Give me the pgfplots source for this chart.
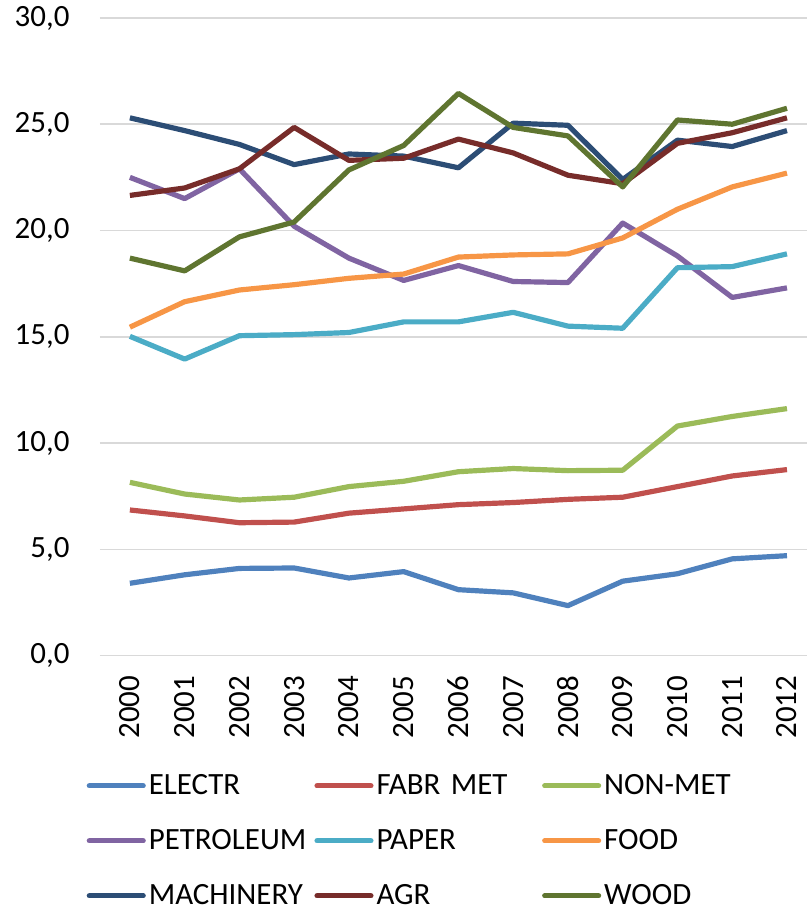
\documentclass[border=0pt]{standalone}
\usepackage{pgfplots}
\pgfplotsset{compat=1.18}
\usepackage{fontspec}
\setmainfont{Carlito}

\definecolor{cElectr}{HTML}{4F81BD}
\definecolor{cFabr}{HTML}{C0504D}
\definecolor{cNonmet}{HTML}{9BBB59}
\definecolor{cPetro}{HTML}{8064A2}
\definecolor{cPaper}{HTML}{4BACC6}
\definecolor{cFood}{HTML}{F79646}
\definecolor{cMach}{HTML}{2C4D75}
\definecolor{cAgr}{HTML}{772C2A}
\definecolor{cWood}{HTML}{5F7530}

\begin{document}
\begin{tikzpicture}[font=\fontsize{15.5}{18}\selectfont]
\begin{axis}[
  name=ax,
  scale only axis,
  width=354.5pt, height=319.5pt,
  xmin=1999.45, xmax=2012.37,
  ymin=0, ymax=30,
  ytick={0,5,...,30},
  xtick={2000,...,2012},
  xticklabels={2000,2001,2002,2003,2004,2005,2006,2007,2008,2009,2010,2011,2012},
  xticklabel style={rotate=90, anchor=east, inner sep=0pt, xshift=-10pt},
  yticklabel style={/pgf/number format/.cd, fixed, fixed zerofill, precision=1, use comma, /tikz/.cd, inner sep=0pt, xshift=-15pt},
  /pgf/number format/assume math mode=true,
  axis line style={draw=none},
  tick style={draw=none},
  ymajorgrids=true,
  grid style={draw=black!15, line width=0.75pt},
  clip=false,
  legend columns=3,
  legend cell align=left,
  legend style={at={(-0.019,-0.181)}, anchor=north west, draw=none, fill=none,
    inner sep=0pt, row sep=13pt,
    /tikz/every even column/.append style={text width=81.5pt, column sep=0pt},
    nodes={inner sep=1.5pt}},
  legend image code/.code={\draw[#1, line cap=round] (0pt,0pt) -- (27pt,0pt);},
  every axis plot/.append style={line width=2.6pt, line join=round, mark=none},
]
\addplot[cElectr] coordinates {(2000,3.4) (2001,3.8) (2002,4.1) (2003,4.12) (2004,3.65) (2005,3.95) (2006,3.1) (2007,2.95) (2008,2.35) (2009,3.5) (2010,3.85) (2011,4.55) (2012,4.7)};
\addlegendentry{ELECTR}
\addplot[cFabr] coordinates {(2000,6.85) (2001,6.57) (2002,6.25) (2003,6.28) (2004,6.7) (2005,6.9) (2006,7.1) (2007,7.2) (2008,7.35) (2009,7.45) (2010,7.95) (2011,8.45) (2012,8.75)};
\addlegendentry{FABR MET}
\addplot[cNonmet] coordinates {(2000,8.15) (2001,7.6) (2002,7.32) (2003,7.45) (2004,7.95) (2005,8.2) (2006,8.65) (2007,8.8) (2008,8.7) (2009,8.72) (2010,10.8) (2011,11.25) (2012,11.62)};
\addlegendentry{NON-MET}
\addplot[cPetro] coordinates {(2000,22.5) (2001,21.5) (2002,22.9) (2003,20.2) (2004,18.7) (2005,17.65) (2006,18.35) (2007,17.6) (2008,17.55) (2009,20.35) (2010,18.8) (2011,16.85) (2012,17.3)};
\addlegendentry{PETROLEUM}
\addplot[cPaper] coordinates {(2000,15.02) (2001,13.95) (2002,15.05) (2003,15.1) (2004,15.2) (2005,15.7) (2006,15.7) (2007,16.15) (2008,15.5) (2009,15.4) (2010,18.25) (2011,18.3) (2012,18.9)};
\addlegendentry{PAPER}
\addplot[cFood] coordinates {(2000,15.45) (2001,16.65) (2002,17.2) (2003,17.45) (2004,17.75) (2005,17.95) (2006,18.75) (2007,18.85) (2008,18.9) (2009,19.65) (2010,21.0) (2011,22.05) (2012,22.7)};
\addlegendentry{FOOD}
\addplot[cMach] coordinates {(2000,25.3) (2001,24.7) (2002,24.05) (2003,23.1) (2004,23.6) (2005,23.5) (2006,22.95) (2007,25.05) (2008,24.95) (2009,22.4) (2010,24.25) (2011,23.95) (2012,24.7)};
\addlegendentry{MACHINERY}
\addplot[cAgr] coordinates {(2000,21.65) (2001,22.0) (2002,22.9) (2003,24.85) (2004,23.3) (2005,23.4) (2006,24.3) (2007,23.65) (2008,22.6) (2009,22.2) (2010,24.1) (2011,24.6) (2012,25.3)};
\addlegendentry{AGR}
\addplot[cWood] coordinates {(2000,18.7) (2001,18.1) (2002,19.7) (2003,20.4) (2004,22.85) (2005,24.0) (2006,26.45) (2007,24.85) (2008,24.45) (2009,22.05) (2010,25.2) (2011,25.0) (2012,25.75)};
\addlegendentry{WOOD}
\end{axis}
\pgfresetboundingbox
\path ([xshift=-50pt,yshift=9pt]ax.north west) rectangle ([yshift=-128.5pt]ax.south east);
\end{tikzpicture}
\end{document}
